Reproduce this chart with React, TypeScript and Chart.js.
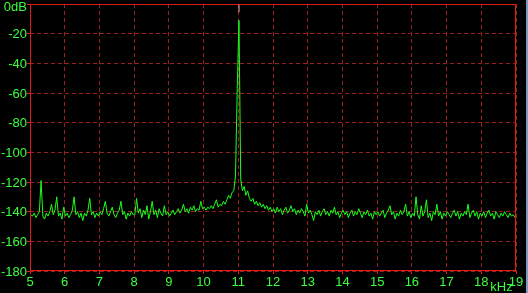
import React, { useEffect, useRef } from "react";
import { Chart, registerables } from "chart.js";

Chart.register(...registerables);

// Spectrum bins: frequency (kHz) of bin i = FREQ_START + i * FREQ_STEP
const FREQ_START = 5.02;
const FREQ_STEP = 0.05;

// Levels in dB, one per bin (20 bins per kHz)
const LEVELS_5 = [-142, -143, -141, -144, -142, -140, -119, -143, -145, -141, -143, -140, -135, -142, -139, -130, -143, -141, -145, -137];
const LEVELS_6 = [-143, -141, -144, -142, -139, -130, -142, -140, -144, -141, -146, -141, -143, -139, -131, -142, -140, -144, -141, -143];
const LEVELS_7 = [-140, -142, -138, -133, -141, -143, -140, -137, -142, -144, -141, -139, -133, -142, -140, -145, -141, -143, -140, -142];
const LEVELS_8 = [-142, -131, -141, -138, -144, -139, -142, -136, -145, -140, -133, -142, -139, -144, -138, -141, -143, -136, -142, -140];
const LEVELS_9 = [-143, -141, -139, -142, -140, -138, -141, -139, -135, -140, -138, -141, -137, -139, -136, -140, -138, -139, -133, -138];
const LEVELS_10 = [-137, -139, -137, -138, -136, -138, -135, -132, -137, -135, -136, -133, -135, -132, -129, -131, -127, -126, -116, -57];
const LEVELS_11 = [-11, -118, -126, -123, -129, -126, -131, -133, -131, -135, -133, -136, -134, -137, -135, -138, -136, -139, -137, -140];
const LEVELS_12 = [-138, -141, -137, -140, -138, -142, -139, -137, -141, -139, -136, -140, -138, -142, -139, -141, -138, -140, -143, -135];
const LEVELS_13 = [-141, -139, -142, -146, -140, -142, -139, -143, -140, -138, -142, -140, -143, -139, -141, -137, -142, -140, -144, -141];
const LEVELS_14 = [-139, -142, -140, -144, -141, -139, -143, -140, -142, -138, -141, -144, -140, -142, -139, -143, -141, -145, -140, -142];
const LEVELS_15 = [-140, -143, -141, -139, -144, -141, -139, -136, -142, -140, -145, -141, -143, -139, -142, -140, -135, -143, -140, -144];
const LEVELS_16 = [-141, -143, -130, -142, -145, -136, -143, -140, -132, -144, -141, -146, -140, -142, -135, -143, -140, -145, -141, -143];
const LEVELS_17 = [-140, -142, -144, -141, -139, -143, -140, -145, -141, -143, -140, -142, -135, -144, -141, -139, -143, -140, -145, -141];
const LEVELS_18 = [-143, -140, -144, -141, -139, -143, -141, -145, -140, -142, -144, -141, -143, -140, -142, -144, -141, -143, -142, -144];

const LEVELS = [
  ...LEVELS_5, ...LEVELS_6, ...LEVELS_7, ...LEVELS_8, ...LEVELS_9, ...LEVELS_10, ...LEVELS_11,
  ...LEVELS_12, ...LEVELS_13, ...LEVELS_14, ...LEVELS_15, ...LEVELS_16, ...LEVELS_17, ...LEVELS_18,
];

// Pale tip of the carrier peak
const PEAK_FREQ = 11.02;
const PEAK_TIP = [-5.5, 0];

const X_MIN = 5;
const X_MAX = 19;
const Y_MIN = -180;
const Y_MAX = 0;
const Y_TICKS = [0, -20, -40, -60, -80, -100, -120, -140, -160, -180];

const GREEN_TEXT = "#3cff3c";
const TRACE = "#1cff1c";
const GRID = "#9a2020";
const FRAME = "#e21b1b";
const FONT = "Liberation Sans, Arial, sans-serif";

const framePlugin = {
  id: "frameAndLabels",
  afterDraw(chart: any) {
    const { ctx, chartArea } = chart;
    const y = chart.scales.y;
    const x = chart.scales.x;
    ctx.save();
    ctx.strokeStyle = FRAME;
    ctx.lineWidth = 1;
    ctx.setLineDash([]);
    ctx.strokeRect(
      Math.round(chartArea.left) + 0.5,
      Math.round(chartArea.top) + 0.5,
      Math.round(chartArea.right - chartArea.left) - 1,
      Math.round(chartArea.bottom - chartArea.top) - 1
    );
    ctx.fillStyle = GREEN_TEXT;
    ctx.font = `13px ${FONT}`;
    ctx.textAlign = "right";
    ctx.textBaseline = "middle";
    for (const v of Y_TICKS) {
      const py = y.getPixelForValue(v);
      const label = v === 0 ? "0dB" : String(v);
      ctx.fillText(label, 27, Math.max(py + 1, 7));
    }
    ctx.textAlign = "left";
    ctx.textBaseline = "alphabetic";
    ctx.fillText("kHz", x.getPixelForValue(18) + 9, 291);
    ctx.restore();
  },
};

export default function App() {
  const canvasRef = useRef<HTMLCanvasElement | null>(null);

  useEffect(() => {
    if (!canvasRef.current) return;
    const points = LEVELS.map((v, i) => ({ x: FREQ_START + i * FREQ_STEP, y: v }));
    const tip = PEAK_TIP.map((v) => ({ x: PEAK_FREQ, y: v }));
    const chart = new Chart(canvasRef.current, {
      type: "line",
      data: {
        datasets: [
          {
            data: points,
            borderColor: TRACE,
            borderWidth: 1,
            pointRadius: 0,
            tension: 0,
            fill: false,
          },
          {
            data: tip,
            borderColor: "#f2b4b4",
            borderWidth: 1,
            pointRadius: 0,
            fill: false,
          },
        ],
      },
      options: {
        animation: false,
        responsive: false,
        events: [],
        layout: { padding: { left: 0, right: 12, top: 4, bottom: 0 } },
        plugins: { legend: { display: false }, tooltip: { enabled: false } },
        scales: {
          x: {
            type: "linear",
            min: X_MIN,
            max: X_MAX,
            afterFit(scale: any) {
              scale.height = 22;
            },
            ticks: {
              stepSize: 1,
              autoSkip: false,
              maxRotation: 0,
              color: GREEN_TEXT,
              font: { family: FONT, size: 13 },
              padding: 1,
            },
            grid: {
              color: GRID,
              lineWidth: 1,
              tickColor: FRAME,
              tickLength: 3,
            },
            border: { display: false, dash: [4, 3] },
          },
          y: {
            type: "linear",
            min: Y_MIN,
            max: Y_MAX,
            afterFit(scale: any) {
              scale.width = 30;
            },
            ticks: { stepSize: 20, display: false },
            grid: {
              color: GRID,
              lineWidth: 1,
              tickColor: FRAME,
              tickLength: 3,
            },
            border: { display: false, dash: [4, 3] },
          },
        },
      },
      plugins: [framePlugin],
    });
    return () => chart.destroy();
  }, []);

  return (
    <div style={{ position: "absolute", left: 0, top: 0, width: 528, height: 293, background: "#000", overflow: "hidden" }}>
      <canvas ref={canvasRef} width={528} height={293} style={{ display: "block" }} />
      <div style={{ position: "absolute", right: 0, top: 0, width: 2, height: 293, background: "#7e9cc0" }} />
    </div>
  );
}
